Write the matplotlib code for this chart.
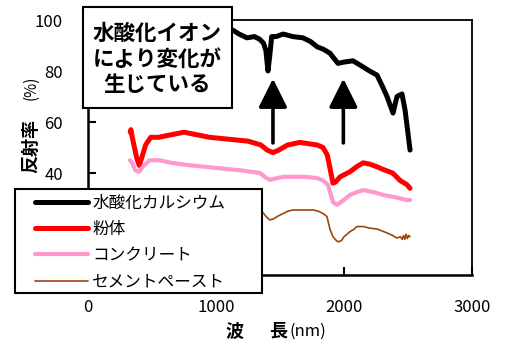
import matplotlib
matplotlib.use("Agg")
import matplotlib.pyplot as plt
from matplotlib.patches import Rectangle

plt.rcParams['font.family'] = ['Noto Sans CJK JP', 'DejaVu Sans']

# 反射スペクトル (波長 nm, 反射率 %)
wl_caoh = [350, 500, 700, 900, 1100, 1133, 1180, 1242, 1300, 1340, 1370, 1390,
           1406, 1420, 1435, 1470, 1525, 1600, 1680, 1740, 1790, 1840, 1890, 1953,
           2000, 2070, 2120, 2200, 2258, 2300, 2336, 2383, 2414, 2453, 2477, 2500, 2516]
r_caoh = [95, 97, 97, 96, 95.5, 96, 94.5, 93, 93.5, 92.5, 91, 88,
          80, 86, 93.5, 93.5, 94.5, 93.5, 93, 91.5, 89.5, 88.5, 87, 83,
          83.5, 84, 82.5, 80, 78.4, 74, 70, 63.5, 70, 71, 64.7, 55.5, 49]

wl_powder = [330, 335, 350, 380, 400, 420, 450, 490, 550, 650, 750, 850, 950,
             1050, 1150, 1250, 1350, 1400, 1445, 1490, 1560, 1656, 1720, 1790,
             1836, 1870, 1890, 1914, 1935, 1970, 2047, 2100, 2150, 2200, 2255,
             2300, 2380, 2440, 2490, 2516]
r_powder = [56, 57, 53, 46, 43, 46, 51, 54, 54, 55, 56, 55, 54,
            53.5, 53, 52.5, 51, 49, 48, 49, 51, 52, 51.5, 51,
            50, 47, 42, 36, 36.5, 38.5, 40.5, 42.5, 44, 43.5, 42.5,
            41.5, 40, 37, 35.5, 34]

wl_concrete = [328, 345, 370, 400, 430, 480, 560, 650, 800, 1000, 1200, 1344,
               1380, 1420, 1460, 1525, 1600, 1700, 1790, 1840, 1875, 1900, 1914,
               1945, 2000, 2047, 2100, 2150, 2230, 2305, 2400, 2490, 2516]
r_concrete = [45, 44, 41, 40.5, 42.5, 45, 45, 44, 43, 42, 41, 40,
              38.5, 37.3, 37.8, 38.5, 38.5, 38.5, 38, 37, 35.3, 31, 28.6,
              27.5, 29.5, 31.4, 32.5, 33.3, 32.5, 31.4, 30.5, 29.4, 29.4]

wl_paste = [330, 400, 600, 900, 1200, 1340, 1367, 1390, 1420, 1450, 1480, 1520,
            1560, 1600, 1700, 1760, 1800, 1840, 1867, 1890, 1914, 1940, 1953,
            1980, 2000, 2047, 2080, 2100, 2150, 2200, 2260, 2336, 2380, 2414,
            2440, 2455, 2465, 2475, 2485, 2495, 2505, 2516]
r_paste = [22, 24, 27, 27, 26, 25, 24.5, 23, 21.6, 22, 23, 24,
           25, 25.5, 25.5, 25.5, 25, 24, 22.9, 18, 15, 13.5, 13,
           13.5, 15, 17, 18, 19, 19, 18.4, 18, 16.5, 15.5, 14.5,
           15, 14, 15.5, 14, 16, 14.3, 15.5, 15]

labels = ['水酸化カルシウム', '粉体', 'コンクリート', 'セメントペースト']
colors = ['black', '#ff0000', '#ff99cc', '#a0440f']
widths = [3.6, 3.6, 3.0, 1.2]

fig = plt.figure(figsize=(5.09, 3.45), dpi=100)
ax = fig.add_axes([0.1729, 0.2029, 0.7544, 0.7391])

series = [(wl_caoh, r_caoh), (wl_powder, r_powder),
          (wl_concrete, r_concrete), (wl_paste, r_paste)]
for (x, y), lab, c, w in zip(series, labels, colors, widths):
    ax.plot(x, y, color=c, lw=w, label=lab, solid_capstyle='round',
            solid_joinstyle='round')

ax.set_xlim(0, 3000)
ax.set_ylim(0, 100)
ax.set_xticks([0, 1000, 2000, 3000])
ax.set_yticks([0, 20, 40, 60, 80, 100])
ax.tick_params(axis='both', direction='in', length=6, width=1.5, labelsize=12)
ax.tick_params(axis='y', pad=18)
ax.tick_params(axis='x', pad=17)
for s in ax.spines.values():
    s.set_linewidth(1.3)
ax.spines['left'].set_linewidth(1.8)
ax.spines['bottom'].set_linewidth(1.8)

# 吸収位置の矢印
for xa in [1445, 1995]:
    ax.annotate('', xy=(xa, 77), xytext=(xa, 51.8),
                arrowprops=dict(arrowstyle='-|>,head_length=1.1,head_width=0.55',
                                mutation_scale=16, lw=2.6, color='black',
                                shrinkA=0, shrinkB=0))

# 凡例 (枠は別に描く)
frame = Rectangle((15 / 509, 1 - 293 / 345), 247 / 509, 104 / 345,
                  transform=fig.transFigure, facecolor='white',
                  edgecolor='black', lw=1.5, zorder=4.5, clip_on=False)
ax.add_patch(frame)
leg = ax.legend(loc='upper left', bbox_to_anchor=(29 / 509, 1 - 189 / 345),
                bbox_transform=fig.transFigure, fontsize=12, frameon=False,
                handlelength=3.2, handletextpad=0.25, labelspacing=0.55,
                borderpad=0.35, borderaxespad=0)

# 注記ボックス
box = Rectangle((83 / 509, 1 - 108 / 345), 149 / 509, 101 / 345,
                transform=fig.transFigure, facecolor='white',
                edgecolor='black', lw=1.5, zorder=3)
fig.patches.append(box)
fig.text(157.5 / 509, 1 - 59 / 345, '水酸化イオン\nにより変化が\n生じている',
         ha='center', va='center', fontsize=15.5, fontweight='bold',
         linespacing=1.28, zorder=4)

# 軸ラベル
fig.text(31 / 509, 1 - 146 / 345, '反射率', rotation=90, ha='center',
         va='center', fontsize=13, fontweight='bold')
fig.text(31 / 509, 1 - 88 / 345, '(%)', rotation=90, ha='center',
         va='center', fontsize=11)
fig.text(234 / 509, 1 - 331 / 345, '波', ha='center', va='center',
         fontsize=13, fontweight='bold')
fig.text(278 / 509, 1 - 331 / 345, '長', ha='center', va='center',
         fontsize=13, fontweight='bold')
fig.text(308 / 509, 1 - 331 / 345, '(nm)', ha='center', va='center',
         fontsize=12)

fig.savefig('out.png', dpi=100)
